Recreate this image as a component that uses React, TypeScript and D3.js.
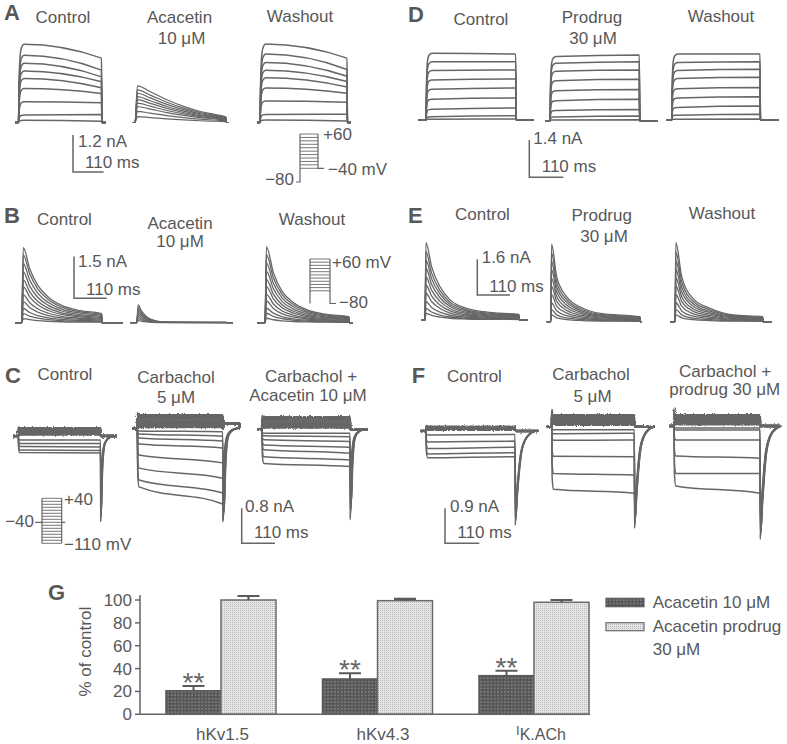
import React from 'react';
import * as d3 from 'd3';

// ================= DATA =================
// Panel A – hKv1.5 (nA): level right after activation and at end of 300-ms step
const aCtrlStart = [2.54, 2.18, 1.92, 1.67, 1.43, 1.10, 0.67, 0.24, 0.07];
const aCtrlEnd = [2.09, 1.70, 1.48, 1.32, 1.13, 0.94, 0.64, 0.26, 0.04];
const aAcaPeak = [1.19, 1.06, 0.95, 0.84, 0.74, 0.63, 0.52, 0.36, 0.19];
const aWashStart = [2.55, 2.22, 1.95, 1.70, 1.45, 1.12, 0.70, 0.26, 0.08];
const aWashEnd = [2.09, 1.72, 1.50, 1.33, 1.15, 0.95, 0.66, 0.27, 0.05];
const aAcaDecayT = [0, 8, 50, 105, 160, 215, 270, 300];
const aAcaDecayF = [0, 1, 0.84, 0.62, 0.44, 0.30, 0.21, 0.15];
const stepRiseT = [0, 2, 5, 10, 20];
const stepRiseF = [0, 0.5, 0.8, 0.95, 1];
const aProtoMv = [-40, -30, -20, -10, 0, 10, 20, 30, 40, 50, 60];

// Panel B – hKv4.3 peaks (nA) and normalised decay
const bCtrlPeak = [2.70, 2.44, 2.13, 1.83, 1.54, 1.29, 1.00, 0.76, 0.51, 0.33, 0.15];
const bAcaPeak = [0.64, 0.55, 0.46, 0.38, 0.30, 0.22, 0.15, 0.08];
const bWashPeak = [2.73, 2.45, 2.15, 1.85, 1.56, 1.30, 1.02, 0.78, 0.52, 0.34, 0.16];
const bCtrlDecayT = [0, 6, 30, 60, 100, 150, 220, 300];
const bCtrlDecayF = [0, 1, 0.72, 0.5, 0.34, 0.23, 0.16, 0.12];
const bAcaDecayT = [0, 5, 15, 33, 55, 78, 150, 300];
const bAcaDecayF = [0, 1, 0.7, 0.34, 0.15, 0.06, 0.03, 0.02];
const bWashDecayT = [0, 5, 30, 60, 100, 150, 220, 300];
const bWashDecayF = [0, 1, 0.66, 0.42, 0.27, 0.17, 0.11, 0.08];
const bProtoMv = [-40, -30, -20, -10, 0, 10, 20, 30, 40, 50, 60];

// Panel C – IK.ACh (nA)
const cCtrlOut = [0.18, 0.15, 0.12, 0.09, 0.06, 0.03];
const cCtrlInStart = [-0.09, -0.17, -0.24, -0.32, -0.38];
const cCtrlInEnd = [-0.09, -0.17, -0.25, -0.33, -0.39];
const cCtrlTail = [-1.96, -1.9, -1.84, -1.78, -1.72];
const cCarbOut = [0.30, 0.26, 0.22, 0.18, 0.14, 0.10, 0.06, 0.03];
const cCarbInStart = [-0.06, -0.13, -0.22, -0.36, -0.61, -0.91, -1.18, -1.34];
const cCarbInEnd = [-0.08, -0.18, -0.29, -0.45, -0.79, -1.14, -1.48, -1.73];
const cCarbTail = [-2.14, -2.1, -2.06, -2.02, -1.98, -1.94, -1.9, -1.86];
const cCarbPostOut = 0.11;
const cAcaOut = [0.28, 0.24, 0.20, 0.16, 0.12, 0.08, 0.04];
const cAcaInStart = [-0.09, -0.15, -0.24, -0.36, -0.47, -0.63, -0.78];
const cAcaInEnd = [-0.09, -0.17, -0.28, -0.41, -0.55, -0.70, -0.85];
const cAcaTail = [-2.07, -2.0, -1.93, -1.86, -1.79, -1.72, -1.65];
const cTailT = [0.6, 3, 8, 15, 30, 50];
const cTailF = [1, 0.5, 0.2, 0.08, 0.02, 0];
const cProtoMv = [-110, -100, -90, -80, -70, -60, -50, -40, -30, -20, -10, 0, 10, 20, 30, 40];

// Panel D – hKv1.5 + prodrug (nA)
const dCtrlStart = [2.50, 2.18, 1.85, 1.50, 1.15, 0.78, 0.40, 0.12, 0.03];
const dCtrlEnd = [2.47, 2.18, 1.87, 1.54, 1.20, 0.82, 0.45, 0.16, 0.04];
const dProStart = [2.40, 2.15, 1.85, 1.50, 1.12, 0.75, 0.38, 0.14, 0.03];
const dProEnd = [2.46, 2.21, 1.90, 1.55, 1.17, 0.80, 0.42, 0.18, 0.04];
const dWashStart = [2.47, 2.15, 1.85, 1.55, 1.17, 0.82, 0.47, 0.18, 0.03];
const dWashEnd = [2.47, 2.18, 1.90, 1.60, 1.22, 0.87, 0.52, 0.22, 0.04];
const dRiseT = [0, 2, 5, 10, 20];
const dRiseF = [0, 0.6, 0.88, 0.97, 1];

// Panel E – hKv4.3 + prodrug (nA)
const eCtrlPeak = [3.47, 3.06, 2.69, 2.32, 1.94, 1.57, 1.20, 0.82, 0.52, 0.30];
const eProPeak = [3.48, 3.08, 2.70, 2.33, 1.95, 1.58, 1.21, 0.84, 0.53, 0.30];
const eWashPeak = [3.54, 3.12, 2.74, 2.36, 1.97, 1.60, 1.22, 0.85, 0.54, 0.31];
const eCtrlDecayT = [0, 3, 21, 48, 80, 133, 186, 239, 300];
const eCtrlDecayF = [0, 1, 0.69, 0.43, 0.26, 0.15, 0.107, 0.087, 0.074];
const eProDecayT = [0, 3, 20, 54, 110, 166, 300];
const eProDecayF = [0, 1, 0.58, 0.32, 0.17, 0.107, 0.064];
const eWashDecayT = [0, 3, 23, 63, 120, 200, 300];
const eWashDecayF = [0, 1, 0.57, 0.29, 0.17, 0.085, 0.063];

// Panel F – IK.ACh + prodrug (nA)
const fCtrlOut = [0.11, 0.08, 0.05, 0.03];
const fCtrlInStart = [-0.10, -0.28, -0.45, -0.59, -0.69];
const fCtrlInEnd = [-0.09, -0.26, -0.42, -0.56, -0.66];
const fCtrlTail = [-2.42, -2.36, -2.3, -2.24, -2.18];
const fCarbOut = [0.30, 0.25, 0.20, 0.15, 0.10, 0.05];
const fCarbInStart = [-0.08, -0.18, -0.35, -0.76, -1.20, -1.61];
const fCarbInEnd = [-0.08, -0.17, -0.34, -0.77, -1.24, -1.71];
const fCarbTail = [-2.61, -2.55, -2.49, -2.43, -2.37, -2.31];
const fProOut = [0.28, 0.23, 0.18, 0.13, 0.08, 0.04];
const fProInStart = [-0.05, -0.10, -0.36, -0.77, -1.22, -1.54];
const fProInEnd = [-0.05, -0.10, -0.36, -0.83, -1.22, -1.73];
const fProTail = [-2.91, -2.85, -2.79, -2.73, -2.67, -2.61];
const fTailT = [0.8, 4, 10, 20, 40, 70];
const fTailF = [1, 0.75, 0.5, 0.22, 0.06, 0];

// Panel G – % of control
const gCategories = ['hKv1.5', 'hKv4.3', 'IK.ACh'];
const gAcacetin = [20.6, 30.9, 33.8];
const gAcacetinErr = [4.1, 5.0, 4.3];
const gProdrug = [100, 99.4, 98];
const gProdrugErr = [3.5, 1.5, 2];
const gTicks = [0, 20, 40, 60, 80, 100];
const gLegend = ['Acacetin 10 μM', 'Acacetin prodrug', '30 μM'];

// ================= STYLE / LAYOUT =================
const TRACE = '#666';
const TEXT = '#585858';
const FONT = '"Liberation Sans", Arial, Helvetica, sans-serif';

type P = [number, number];
type G = { x0: number; x1: number; base: number; pre: number; post: number };

const LA = { k: 30.8, ctrl: { x0: 18.5, x1: 101.5, base: 122.5, pre: 15, post: 106 }, aca: { x0: 135, x1: 226, base: 122.5, pre: 132, post: 229 }, wash: { x0: 260, x1: 347, base: 122.5, pre: 257, post: 351 } };
const LB = { k: 27.8, ctrl: { x0: 21.7, x1: 101.7, base: 322.7, pre: 15, post: 123 }, aca: { x0: 136.7, x1: 226.7, base: 322.7, pre: 130, post: 233 }, wash: { x0: 265, x1: 349, base: 322.7, pre: 257, post: 353 } };
const LC = { k: 43.75, ctrl: { x0: 18.3, x1: 100.5, base: 436, pre: 13, post: 117 }, carb: { x0: 137.3, x1: 222.7, base: 428.3, pre: 132, post: 240 }, aca: { x0: 262, x1: 350, base: 429.3, pre: 257, post: 368 } };
const LD = { k: 26.7, ctrl: { x0: 426, x1: 515.7, base: 120, pre: 418, post: 534 }, pro: { x0: 550, x1: 639.3, base: 120.7, pre: 545, post: 658 }, wash: { x0: 671.7, x1: 760, base: 120, pre: 666.7, post: 779 } };
const LE = { k: 22.3, ctrl: { x0: 425, x1: 519, base: 320, pre: 421.7, post: 528 }, pro: { x0: 550.7, x1: 640, base: 321.7, pre: 546.7, post: 642 }, wash: { x0: 675, x1: 762.7, base: 321.7, pre: 670, post: 772 } };
const LF = { k: 38.9, ctrl: { x0: 426, x1: 515, base: 431, pre: 420.7, post: 538.3 }, carb: { x0: 551.7, x1: 634.3, base: 426.7, pre: 546.7, post: 655 }, pro: { x0: 674, x1: 760, base: 426, pre: 669.3, post: 780 } };

function sc(g: G, k: number) {
  const x = d3.scaleLinear().domain([0, 300]).range([g.x0, g.x1]);
  const y = d3.scaleLinear().domain([0, 1]).range([g.base, g.base - k]);
  return { x, y, tPre: x.invert(g.pre), tPost: x.invert(g.post) };
}

function stepTrace(g: G, k: number, start: number, end: number, rT: number[], rF: number[]): P[] {
  const { tPre, tPost } = sc(g, k);
  const pts: P[] = [[tPre, 0], [0, 0]];
  rT.forEach((t, i) => { if (t > 0) pts.push([t, start * rF[i]]); });
  pts.push([300, end], [301.5, 0], [tPost, 0]);
  return pts;
}

function transientTrace(g: G, k: number, peak: number, dT: number[], dF: number[]): P[] {
  const { tPre, tPost } = sc(g, k);
  const pts: P[] = [[tPre, 0], [0, 0]];
  dT.forEach((t, i) => { if (t > 0) pts.push([t, peak * dF[i]]); });
  pts.push([301.5, 0], [tPost, 0]);
  return pts;
}

function outTrace(g: G, k: number, lvl: number, spike: number, post?: number): P[] {
  const { tPre, tPost } = sc(g, k);
  const pts: P[] = [[tPre, 0], [0, 0], [1, lvl * spike], [4, lvl], [300, lvl], [301, 0]];
  if (post) pts.push([305, post], [tPost - 2, post], [tPost - 1, 0]);
  pts.push([tPost, 0]);
  return pts;
}

function inTrace(g: G, k: number, s: number, e: number, tail: number, tT: number[], tF: number[], idx: number): P[] {
  const { tPre, tPost } = sc(g, k);
  const shift = idx * 0.7;
  const pts: P[] = [[tPre, 0], [0, 0], [1.5, s * 0.8], [6, s], [300, e]];
  tT.forEach((t, i) => pts.push([300 + t + shift * (i === 0 ? 1 : 1.5), tail * tF[i]]));
  const last = pts[pts.length - 1][0];
  if (tPost > last) pts.push([tPost, 0]);
  return pts;
}

function Family({ g, k, traces, filter, sw = 1.5 }: { g: G; k: number; traces: P[][]; filter?: string; sw?: number }) {
  const { x, y } = sc(g, k);
  const line = d3.line<P>().x((d) => x(d[0])).y((d) => y(d[1])).curve(d3.curveMonotoneX);
  return (
    <g filter={filter}>
      {traces.map((t, i) => (
        <path key={i} d={line(t) || ''} fill="none" stroke={TRACE} strokeWidth={sw} strokeLinejoin="round" />
      ))}
    </g>
  );
}

function T({ x, y, children, anchor = 'middle', size = 17, weight = 'normal' }: any) {
  return (
    <text x={x} y={y} textAnchor={anchor} fontSize={size} fontWeight={weight} fill={TEXT} fontFamily={FONT}>
      {children}
    </text>
  );
}

function ScaleBar({ x, yb, h, w, l1, l1x, l1y, l2x, l2y }: any) {
  return (
    <g>
      <path d={`M${x},${yb - h}V${yb}H${x + w}`} fill="none" stroke={TRACE} strokeWidth={1.5} />
      <T x={l1x} y={l1y} anchor="start">{l1}</T>
      <T x={l2x} y={l2y} anchor="start">110 ms</T>
    </g>
  );
}

function InwardPanel({ L, key1, out, spike, inS, inE, tails, tT, tF, post }: any) {
  const g: G = L[key1];
  return (
    <g>
      <Family g={g} k={L.k} traces={out.map((v: number) => outTrace(g, L.k, v, spike, post))} filter="url(#noise)" sw={2.3} />
      <Family g={g} k={L.k} traces={inS.map((s: number, i: number) => inTrace(g, L.k, s, inE[i], tails[i], tT, tF, i))} filter="url(#noise2)" sw={1.5} />
    </g>
  );
}

function BarChart() {
  const y = d3.scaleLinear().domain([0, 100]).range([714.3, 600]);
  const xc = d3.scalePoint<string>().domain(gCategories).range([221, 534]);
  const bw = 55;
  const cap = 11;
  return (
    <g>
      <defs>
        <pattern id="pDark" width="3.4" height="3.4" patternUnits="userSpaceOnUse">
          <rect width="3.4" height="3.4" fill="#575757" />
          <rect x="1.2" y="1.2" width="1" height="1" fill="#c8c8c8" />
        </pattern>
        <pattern id="pLight" width="2" height="2" patternUnits="userSpaceOnUse">
          <rect width="2" height="2" fill="#e6e6e6" />
          <rect width="1" height="1" fill="#b8b8b8" />
        </pattern>
      </defs>
      {gCategories.map((c, i) => {
        const cx = xc(c) as number;
        const dTop = y(gAcacetin[i]);
        const pTop = y(gProdrug[i]);
        const dErr = y(gAcacetin[i] + gAcacetinErr[i]);
        const pErr = y(gProdrug[i] + gProdrugErr[i]);
        return (
          <g key={c}>
            <rect x={cx - bw} y={dTop} width={bw} height={y(0) - dTop} fill="url(#pDark)" stroke="#5a5a5a" strokeWidth={1.5} />
            <rect x={cx} y={pTop} width={bw} height={y(0) - pTop} fill="url(#pLight)" stroke="#6a6a6a" strokeWidth={1.5} />
            <path d={`M${cx - bw / 2},${dTop}V${dErr}M${cx - bw / 2 - cap},${dErr}H${cx - bw / 2 + cap}`} stroke="#5a5a5a" strokeWidth={2} fill="none" />
            <path d={`M${cx + bw / 2},${pTop}V${pErr}M${cx + bw / 2 - cap},${pErr}H${cx + bw / 2 + cap}`} stroke="#5a5a5a" strokeWidth={2.2} fill="none" />
            <text x={cx - bw / 2} y={dErr + 6} textAnchor="middle" fontSize={28} fill="#666" fontFamily={FONT}>**</text>
          </g>
        );
      })}
      {/* axes */}
      <path d={`M140,595V${y(0)}H590`} fill="none" stroke="#666" strokeWidth={1.5} />
      {gTicks.map((t) => (
        <g key={t}>
          <line x1={135} x2={140} y1={y(t)} y2={y(t)} stroke="#666" strokeWidth={1.5} />
          <T x={132} y={y(t) + 6} anchor="end">{t}</T>
        </g>
      ))}
      <g transform="translate(91,651.7) rotate(-90)">
        <T x={0} y={0}>% of control</T>
      </g>
      <T x={xc(gCategories[0])! + 1.5} y={740}>{gCategories[0]}</T>
      <T x={xc(gCategories[1])! + 5.5} y={740}>{gCategories[1]}</T>
      <text x={516} y={740} fill={TEXT} fontFamily={FONT}>
        <tspan fontSize={13} dy={-5}>{gCategories[2].slice(0, 1)}</tspan>
        <tspan fontSize={16} dy={5}>{gCategories[2].slice(1)}</tspan>
      </text>
      {/* legend */}
      <rect x={606} y={598.3} width={38} height={8.4} fill="url(#pDark)" stroke="#5a5a5a" strokeWidth={1.2} />
      <rect x={606} y={622.7} width={38} height={8} fill="url(#pLight)" stroke="#6a6a6a" strokeWidth={1.2} />
      <T x={652.7} y={608.3} anchor="start">{gLegend[0]}</T>
      <T x={652.7} y={631.7} anchor="start">{gLegend[1]}</T>
      <T x={652.7} y={655} anchor="start">{gLegend[2]}</T>
    </g>
  );
}

function Protocol({ levels, dom, rng, xL, xR, kind }: any) {
  const y = d3.scaleLinear().domain(dom).range(rng);
  const lo = dom[0];
  const hi = dom[1];
  let d = '';
  if (kind === 'A') {
    d = `M${xL - 4},${y(lo)}H${xL}V${y(hi)}M${xR},${y(hi)}V${y(-40)}H${xR + 6}`;
  } else if (kind === 'B') {
    d = `M${xL},${y(lo)}V${y(hi)}M${xR},${y(hi)}V${y(lo)}H${xR + 6}`;
  } else {
    d = `M${xL},${y(lo)}V${y(hi)}M${xR},${y(hi)}V${y(lo)}M${xL - 7},${y(-40)}H${xL}M${xR},${y(-40)}H${xR + 3.5}`;
  }
  return (
    <g>
      <path d={d} fill="none" stroke={TRACE} strokeWidth={1.2} />
      {levels.map((v: number) => (
        <line key={v} x1={xL} x2={xR} y1={y(v)} y2={y(v)} stroke={TRACE} strokeWidth={0.9} />
      ))}
    </g>
  );
}

export default function App() {
  return (
    <svg width={787} height={744} style={{ position: 'absolute', left: 0, top: 0, background: '#fff' }} fontFamily={FONT}>
      <defs>
        <filter id="noise" filterUnits="userSpaceOnUse" x="0" y="0" width="787" height="744">
          <feTurbulence type="fractalNoise" baseFrequency="0.9 0.6" numOctaves="1" seed="3" result="n" />
          <feDisplacementMap in="SourceGraphic" in2="n" scale="3" xChannelSelector="R" yChannelSelector="G" />
        </filter>
        <filter id="noise2" filterUnits="userSpaceOnUse" x="0" y="0" width="787" height="744">
          <feTurbulence type="fractalNoise" baseFrequency="0.9 0.6" numOctaves="1" seed="7" result="n" />
          <feDisplacementMap in="SourceGraphic" in2="n" scale="1.4" xChannelSelector="R" yChannelSelector="G" />
        </filter>
      </defs>
      <rect width={787} height={744} fill="#fff" />

      {/* ---------- Panel A ---------- */}
      <T x={4} y={20} anchor="start" size={22} weight="bold">A</T>
      <T x={63} y={23}>Control</T>
      <T x={179.5} y={23}>Acacetin</T>
      <T x={181.5} y={44}>10 μM</T>
      <T x={300} y={22}>Washout</T>
      <Family g={LA.ctrl} k={LA.k} traces={aCtrlStart.map((s, i) => stepTrace(LA.ctrl, LA.k, s, aCtrlEnd[i], stepRiseT, stepRiseF))} />
      <Family g={LA.aca} k={LA.k} traces={aAcaPeak.map((p) => transientTrace(LA.aca, LA.k, p, aAcaDecayT, aAcaDecayF))} sw={1.2} />
      <Family g={LA.wash} k={LA.k} traces={aWashStart.map((s, i) => stepTrace(LA.wash, LA.k, s, aWashEnd[i], stepRiseT, stepRiseF))} />
      <ScaleBar x={73} yb={172} h={37} w={30.6} l1="1.2 nA" l1x={78} l1y={147} l2x={85} l2y={168} />
      <Protocol levels={aProtoMv} dom={[-80, 60]} rng={[182, 134]} xL={300} xR={318} kind="A" />
      <T x={323} y={140} anchor="start">+60</T>
      <T x={328} y={175} anchor="start">−40 mV</T>
      <T x={294} y={185} anchor="end">−80</T>

      {/* ---------- Panel B ---------- */}
      <T x={4} y={223} anchor="start" size={22} weight="bold">B</T>
      <T x={64.5} y={225}>Control</T>
      <T x={180} y={229}>Acacetin</T>
      <T x={180} y={247}>10 μM</T>
      <T x={312} y={225}>Washout</T>
      <Family g={LB.ctrl} k={LB.k} traces={bCtrlPeak.map((p) => transientTrace(LB.ctrl, LB.k, p, bCtrlDecayT, bCtrlDecayF))} sw={1.3} />
      <Family g={LB.aca} k={LB.k} traces={bAcaPeak.map((p) => transientTrace(LB.aca, LB.k, p, bAcaDecayT, bAcaDecayF))} sw={1.2} />
      <Family g={LB.wash} k={LB.k} traces={bWashPeak.map((p) => transientTrace(LB.wash, LB.k, p, bWashDecayT, bWashDecayF))} sw={1.3} />
      <ScaleBar x={74} yb={298.3} h={41.7} w={32.7} l1="1.5 nA" l1x={78} l1y={267.3} l2x={86} l2y={295} />
      <Protocol levels={bProtoMv} dom={[-80, 60]} rng={[303.5, 259]} xL={310} xR={330} kind="B" />
      <T x={332} y={268.3} anchor="start">+60 mV</T>
      <T x={339} y={308.3} anchor="start">−80</T>

      {/* ---------- Panel C ---------- */}
      <T x={5} y={383} anchor="start" size={22} weight="bold">C</T>
      <T x={65} y={380}>Control</T>
      <T x={176} y={382.7}>Carbachol</T>
      <T x={176} y={402.7}>5 μM</T>
      <T x={311} y={381.7}>Carbachol +</T>
      <T x={308} y={400.7}>Acacetin 10 μM</T>
      <InwardPanel L={LC} key1="ctrl" out={cCtrlOut} spike={1.1} inS={cCtrlInStart} inE={cCtrlInEnd} tails={cCtrlTail} tT={cTailT} tF={cTailF} />
      <InwardPanel L={LC} key1="carb" out={cCarbOut} spike={1.15} inS={cCarbInStart} inE={cCarbInEnd} tails={cCarbTail} tT={cTailT} tF={cTailF} post={cCarbPostOut} />
      <InwardPanel L={LC} key1="aca" out={cAcaOut} spike={1.1} inS={cAcaInStart} inE={cAcaInEnd} tails={cAcaTail} tT={cTailT} tF={cTailF} />
      <ScaleBar x={241.7} yb={543.3} h={35} w={33.3} l1="0.8 nA" l1x={245} l1y={511.7} l2x={254} l2y={538.3} />
      <Protocol levels={cProtoMv} dom={[-110, 40]} rng={[543.3, 498.3]} xL={42} xR={61.7} kind="C" />
      <T x={34} y={526.7} anchor="end">−40</T>
      <T x={64} y={505} anchor="start">+40</T>
      <T x={64} y={550} anchor="start">−110 mV</T>

      {/* ---------- Panel D ---------- */}
      <T x={408} y={22} anchor="start" size={22} weight="bold">D</T>
      <T x={481} y={25}>Control</T>
      <T x={592} y={23}>Prodrug</T>
      <T x={593} y={44}>30 μM</T>
      <T x={721} y={22}>Washout</T>
      <Family g={LD.ctrl} k={LD.k} traces={dCtrlStart.map((s, i) => stepTrace(LD.ctrl, LD.k, s, dCtrlEnd[i], dRiseT, dRiseF))} />
      <Family g={LD.pro} k={LD.k} traces={dProStart.map((s, i) => stepTrace(LD.pro, LD.k, s, dProEnd[i], dRiseT, dRiseF))} />
      <Family g={LD.wash} k={LD.k} traces={dWashStart.map((s, i) => stepTrace(LD.wash, LD.k, s, dWashEnd[i], dRiseT, dRiseF))} />
      <ScaleBar x={529.3} yb={177.3} h={37.3} w={34} l1="1.4 nA" l1x={533.3} l1y={144} l2x={541.7} l2y={171.7} />

      {/* ---------- Panel E ---------- */}
      <T x={408} y={223} anchor="start" size={22} weight="bold">E</T>
      <T x={482.5} y={220}>Control</T>
      <T x={601.7} y={220.7}>Prodrug</T>
      <T x={604} y={241.7}>30 μM</T>
      <T x={722} y={219.3}>Washout</T>
      <Family g={LE.ctrl} k={LE.k} traces={eCtrlPeak.map((p) => transientTrace(LE.ctrl, LE.k, p, eCtrlDecayT, eCtrlDecayF))} sw={1.3} />
      <Family g={LE.pro} k={LE.k} traces={eProPeak.map((p) => transientTrace(LE.pro, LE.k, p, eProDecayT, eProDecayF))} sw={1.3} />
      <Family g={LE.wash} k={LE.k} traces={eWashPeak.map((p) => transientTrace(LE.wash, LE.k, p, eWashDecayT, eWashDecayF))} sw={1.3} />
      <ScaleBar x={477.3} yb={295} h={35.7} w={32.7} l1="1.6 nA" l1x={481.7} l1y={263.3} l2x={489.3} l2y={291.7} />

      {/* ---------- Panel F ---------- */}
      <T x={411.7} y={383} anchor="start" size={22} weight="bold">F</T>
      <T x={474.5} y={381.7}>Control</T>
      <T x={591} y={380}>Carbachol</T>
      <T x={592.5} y={401.7}>5 μM</T>
      <T x={725} y={376.7}>Carbachol +</T>
      <T x={724.7} y={395}>prodrug 30 μM</T>
      <InwardPanel L={LF} key1="ctrl" out={fCtrlOut} spike={1.2} inS={fCtrlInStart} inE={fCtrlInEnd} tails={fCtrlTail} tT={fTailT} tF={fTailF} />
      <InwardPanel L={LF} key1="carb" out={fCarbOut} spike={1.45} inS={fCarbInStart} inE={fCarbInEnd} tails={fCarbTail} tT={fTailT} tF={fTailF} />
      <InwardPanel L={LF} key1="pro" out={fProOut} spike={1.6} inS={fProInStart} inE={fProInEnd} tails={fProTail} tT={fTailT} tF={fTailF} />
      <ScaleBar x={445} yb={543.3} h={35} w={34.3} l1="0.9 nA" l1x={450} l1y={511.7} l2x={457.3} l2y={538.3} />

      {/* ---------- Panel G ---------- */}
      <T x={48} y={600} anchor="start" size={22} weight="bold">G</T>
      <BarChart />
    </svg>
  );
}
